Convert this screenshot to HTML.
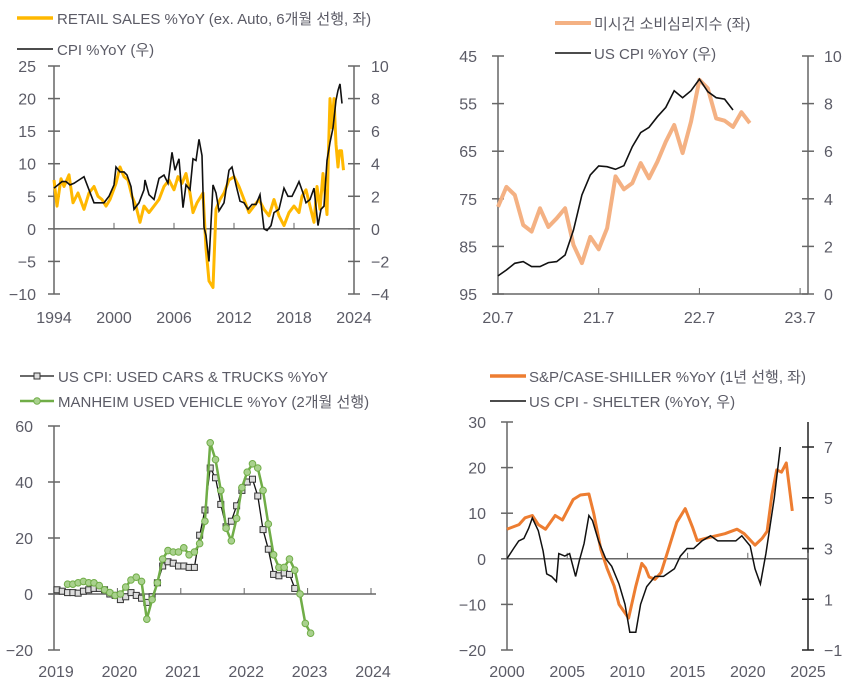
<!DOCTYPE html>
<html><head><meta charset="utf-8"><style>
body{margin:0;background:#fff;}
svg{display:block;font-family:"Liberation Sans","Noto Sans CJK KR",sans-serif;}
.t{fill:#5b5b66;font-size:16px;}
.lg{fill:#5b5b66;font-size:15px;}
</style></head><body>
<svg id="c" width="850" height="692"></svg>
<script>
// Panel 1: retail sales vs CPI
const p1RetailX=[1994,1994.3,1994.7,1995,1995.5,1995.9,1996.4,1997,1997.5,1998,1998.4,1998.8,1999.2,1999.6,2000.2,2000.6,2001,2001.4,2001.8,2002.2,2002.6,2003,2003.5,2004,2004.5,2005,2005.5,2006,2006.4,2006.8,2007.2,2007.6,2007.9,2008.3,2008.9,2009.2,2009.5,2009.9,2010.2,2010.6,2011,2011.5,2012,2012.5,2013,2013.5,2014,2014.5,2015,2015.5,2016,2016.5,2017,2017.5,2018,2018.5,2018.8,2019.2,2019.6,2020,2020.3,2020.6,2020.9,2021.3,2021.45,2021.6,2021.8,2022,2022.2,2022.4,2022.55,2022.75,2022.95,2023.2];
const p1RetailY=[7.5,3.5,7.7,6.5,8.3,4,5.5,3,5.5,6.5,5,4.5,3.5,4.5,7,9.5,8,7.5,5,3.5,1,3.5,2.5,3.5,4.5,6.5,7.5,6,8,7,8.5,5.5,2.5,4,5.5,-3,-8,-9,3,4.5,5.5,7.5,8,6.5,4.5,2.5,3.5,4.5,3,2,4.5,2,0.5,2.5,3.5,2.5,5,6,3.5,1,6.5,3,8.5,2.2,12,20,15.5,20,13,9.5,12,12,9];
const p1CpiX=[1994,1994.4,1994.8,1995.2,1995.6,1996,1996.5,1997,1997.5,1998,1998.5,1999,1999.5,2000,2000.2,2000.6,2001,2001.3,2001.7,2002,2002.5,2003,2003.1,2003.5,2004,2004.5,2005,2005.4,2005.8,2006.1,2006.5,2006.9,2007.2,2007.6,2007.9,2008.2,2008.5,2008.8,2009,2009.2,2009.5,2009.9,2010.2,2010.5,2011,2011.5,2011.8,2012.2,2012.6,2013,2013.4,2013.8,2014.2,2014.6,2015,2015.3,2015.7,2016,2016.5,2017,2017.4,2017.8,2018.2,2018.5,2018.9,2019.2,2019.6,2020,2020.4,2020.7,2021,2021.3,2021.6,2021.9,2022.2,2022.4,2022.6,2022.8];
const p1CpiY=[2.5,2.7,2.9,2.9,2.7,2.8,3.0,3.2,2.4,1.6,1.6,1.6,2.0,2.7,3.8,3.5,3.5,3.3,2.6,1.2,1.6,2.4,3.0,2.1,1.8,3.1,3.3,2.8,4.7,3.6,4.3,1.3,2.7,2.4,4.3,4.2,5.5,4.5,0.1,-0.4,-2.0,2.7,2.2,1.1,1.6,3.6,3.8,2.7,1.7,1.6,1.2,1.5,1.5,2.1,0.0,-0.1,0.2,1.0,1.2,2.5,2.0,2.0,2.5,2.9,2.2,1.6,1.8,2.5,0.2,1.2,1.4,4.2,5.3,6.2,7.9,8.5,8.9,7.7];
const p1LeftTicks=[25,20,15,10,5,0,-5,-10];
const p1RightTicks=[10,8,6,4,2,0,-2,-4];
const p1Years=[1994,2000,2006,2012,2018,2024];
// Panel 2: Michigan sentiment vs CPI (monthly from 20.7)
const p2Sent=[76.7,72.5,74.2,80.5,81.9,77.0,80.9,79.1,77.0,84.7,88.5,83.0,85.6,81.2,70.3,73.0,71.7,67.5,70.7,67.2,63.0,59.5,65.4,58.8,50.0,51.8,58.1,58.6,59.9,56.8,59.1];
const p2Cpi=[0.76,1.01,1.29,1.36,1.15,1.15,1.32,1.36,1.64,2.69,4.16,5.0,5.38,5.35,5.24,5.39,6.19,6.78,7.0,7.45,7.84,8.54,8.25,8.54,9.03,8.5,8.25,8.19,7.73];
const p2LeftTicks=[45,55,65,75,85,95];
const p2RightTicks=[10,8,6,4,2,0];
const p2XLabels=["20.7","21.7","22.7","23.7"];
// Panel 3: used cars (monthly from 2019.0)
const p3Cpi=[1.5,1,0.5,0.5,0.3,1,1.5,2,2,1.5,0,-0.5,-2,-1,0.5,-0.5,-1.5,-3,-1,4,10,11.5,11,10,10,9.5,9.5,21,30,45,41.5,32,24,26,31.5,37,40,41,35,23,16,7,6.5,7.5,7,2];
const p3Manheim=[3.5,3.5,4,4.5,4,4,3,1.5,0.5,-0.5,0,2.5,5,6,4.5,-9,-2,4,12.5,15.5,15,15,16.5,14,15,18,26,54,48,37,23.5,19,27,38,43.5,46.5,45,37,25,14,9.5,9.5,12.5,8.5,0,-10.5,-14];
const p3YTicks=[60,40,20,0,-20];
const p3Years=[2019,2020,2021,2022,2023,2024];
// Panel 4: Case-Shiller vs shelter
const p4CsX=[2000,2001,2001.5,2002.1,2002.6,2003.2,2004,2004.6,2005.1,2005.5,2006.1,2006.8,2007.2,2007.8,2008.3,2008.9,2009.3,2010.1,2010.7,2011.2,2011.5,2011.8,2012.3,2012.8,2013.4,2014.1,2014.8,2015.4,2015.8,2016.5,2017.3,2018.1,2019.1,2019.7,2020.6,2021.2,2021.6,2022,2022.4,2022.8,2023.2,2023.7];
const p4CsY=[6.5,7.5,9,9.5,7.5,6.5,9.5,8.5,11,13,14,14.2,10,2,-2,-6,-10,-13,-6,-1,-2,-4,-4.5,-3,2,8,11,7,4,4.5,5,5.5,6.5,5.5,3,4.5,6,14,19.5,19,21,10.5];
const p4ShX=[2000,2000.55,2000.97,2001.4,2001.8,2002.1,2002.6,2003,2003.3,2003.7,2004.1,2004.3,2004.8,2005.2,2005.7,2006,2006.4,2006.8,2007.1,2007.6,2008.2,2008.7,2009.3,2009.8,2010.2,2010.7,2011.1,2011.6,2012.3,2013,2013.9,2014.4,2014.96,2015.5,2016.2,2016.9,2017.5,2018.3,2019,2019.5,2020.2,2020.6,2021.05,2021.5,2022.2,2022.7];
const p4ShY=[2.6,3.0,3.3,3.4,3.8,4.2,3.7,2.9,2.0,1.9,1.7,2.8,2.7,2.8,1.9,2.5,3.2,4.3,4.1,3.3,2.6,2.3,1.6,0.8,-0.3,-0.3,0.8,1.5,1.9,1.9,2.2,2.7,3.0,3.0,3.3,3.5,3.3,3.3,3.3,3.5,3.1,2.2,1.6,2.8,5.0,7.0];
const p4LeftTicks=[30,20,10,0,-10,-20];
const p4RightTicks=[7,5,3,1,-1];
const p4Years=[2000,2005,2010,2015,2020,2025];

const NS="http://www.w3.org/2000/svg";
const svg=document.getElementById('c');
function mk(tag,attrs,parent){const e=document.createElementNS(NS,tag);for(const k in attrs)e.setAttribute(k,attrs[k]);(parent||svg).appendChild(e);return e;}
function txt(x,y,s,anchor,cls,parent){const e=mk('text',{x:x,y:y,'text-anchor':anchor,class:cls},parent);e.textContent=s;return e;}
function lin(d0,d1,r0,r1){return v=>r0+(v-d0)/(d1-d0)*(r1-r0);}
function path(xs,ys,fx,fy){return xs.map((x,i)=>(i?'L':'M')+fx(x).toFixed(1)+','+fy(ys[i]).toFixed(1)).join('');}
const AX='#666';

// ---------- Panel 1 ----------
{const g=mk('g',{});


const fx=lin(1994,2024,54,354), fl=lin(25,-10,66,294), fr=lin(10,-4,66,294);
mk('line',{x1:54,y1:66,x2:54,y2:294,stroke:AX,'stroke-width':1.5},g);
mk('line',{x1:354,y1:66,x2:354,y2:294,stroke:AX,'stroke-width':1.5},g);
mk('line',{x1:54,y1:fl(0),x2:354,y2:fl(0),stroke:'#222','stroke-width':1},g);
p1LeftTicks.forEach(v=>{mk('line',{x1:48,y1:fl(v),x2:60,y2:fl(v),stroke:AX,'stroke-width':1.5},g);const t=txt(36,fl(v)+6,String(v).replace('-','−'),'end','t',g);});
p1RightTicks.forEach(v=>{mk('line',{x1:348,y1:fr(v),x2:360,y2:fr(v),stroke:AX,'stroke-width':1.5},g);const t=txt(371,fr(v)+6,String(v).replace('-','−'),'start','t',g);});
p1Years.forEach(v=>{mk('line',{x1:fx(v),y1:fl(0)-6,x2:fx(v),y2:fl(0),stroke:AX},g);const t=txt(fx(v),323,String(v),'middle','t',g);});
const a=mk('path',{d:path(p1RetailX,p1RetailY,fx,fl),fill:'none',stroke:'#FFB800','stroke-width':3,'stroke-linejoin':'round'},g);

const b=mk('path',{d:path(p1CpiX,p1CpiY,fx,fr),fill:'none',stroke:'#111','stroke-width':1.6},g);

mk('line',{x1:17,y1:18,x2:53,y2:18,stroke:'#FFB800','stroke-width':3.5},g);
let t=txt(57,24,'RETAIL SALES %YoY (ex. Auto, 6개월 선행, 좌)','start','lg',g);
mk('line',{x1:17,y1:49,x2:53,y2:49,stroke:'#111','stroke-width':1.6},g);
t=txt(57,55,'CPI %YoY (우)','start','lg',g);}

// ---------- Panel 2 ----------
{const g=mk('g',{});


const fx=i=>498+i*100.7/12, fl=lin(45,95,56,294), fr=lin(10,0,56,294);
mk('line',{x1:498,y1:56,x2:498,y2:294,stroke:AX,'stroke-width':1.5},g);
mk('line',{x1:808,y1:56,x2:808,y2:294,stroke:AX,'stroke-width':1.5},g);
mk('line',{x1:493,y1:294,x2:808,y2:294,stroke:AX,'stroke-width':1.5},g);
p2LeftTicks.forEach(v=>{mk('line',{x1:492,y1:fl(v),x2:504,y2:fl(v),stroke:AX,'stroke-width':1.5},g);const t=txt(477,fl(v)+6,String(v),'end','t',g);});
p2RightTicks.forEach(v=>{mk('line',{x1:802,y1:fr(v),x2:814,y2:fr(v),stroke:AX,'stroke-width':1.5},g);const t=txt(824,fr(v)+6,String(v),'start','t',g);});
p2XLabels.forEach((s,i)=>{const x=fx(i*12);mk('line',{x1:x,y1:288,x2:x,y2:294,stroke:AX},g);const t=txt(x,323,s,'middle','t',g);});
const a=mk('path',{d:path(p2Sent.map((v,i)=>i),p2Sent,fx,fl),fill:'none',stroke:'#F4B183','stroke-width':4,'stroke-linejoin':'round'},g);

const b=mk('path',{d:path(p2Cpi.map((v,i)=>i),p2Cpi,fx,fr),fill:'none',stroke:'#111','stroke-width':1.6},g);

mk('line',{x1:555,y1:23,x2:591,y2:23,stroke:'#F4B183','stroke-width':4},g);
let t=txt(594,29,'미시건 소비심리지수 (좌)','start','lg',g);
mk('line',{x1:555,y1:53,x2:591,y2:53,stroke:'#111','stroke-width':1.6},g);
t=txt(594,59,'US CPI %YoY (우)','start','lg',g);}

// ---------- Panel 3 ----------
{const g=mk('g',{});


const fx=i=>57+i*63.4/12, fy=lin(60,-20,426,650), fyr=lin(2019,2024,54,371);
mk('line',{x1:54,y1:426,x2:54,y2:650,stroke:AX,'stroke-width':1.5},g);
mk('line',{x1:49,y1:fy(0),x2:376,y2:fy(0),stroke:AX,'stroke-width':1.5},g);
p3YTicks.forEach(v=>{mk('line',{x1:48,y1:fy(v),x2:60,y2:fy(v),stroke:AX,'stroke-width':1.5},g);const t=txt(33,fy(v)+6,String(v).replace('-','−'),'end','t',g);});
p3Years.forEach(v=>{mk('line',{x1:fyr(v),y1:fy(0)-6,x2:fyr(v),y2:fy(0),stroke:AX},g);const t=txt(fyr(v)+2,677,String(v),'middle','t',g);});
const xs=p3Cpi.map((v,i)=>i);
const a=mk('path',{d:path(xs,p3Cpi,fx,fy),fill:'none',stroke:'#111','stroke-width':1.3},g);

p3Cpi.forEach((v,i)=>{const r=mk('rect',{x:fx(i)-3,y:fy(v)-3,width:6,height:6,fill:'#ddd',stroke:'#333','stroke-width':1},g);});
const xm=p3Manheim.map((v,i)=>i+2);
const b=mk('path',{d:path(xm,p3Manheim,fx,fy),fill:'none',stroke:'#70AD47','stroke-width':2.5},g);

p3Manheim.forEach((v,i)=>{const c=mk('circle',{cx:fx(i+2),cy:fy(v),r:3.3,fill:'#A9D18E',stroke:'#70AD47','stroke-width':1},g);});
mk('line',{x1:20,y1:376,x2:54,y2:376,stroke:'#111','stroke-width':1.3},g);
mk('rect',{x:34,y:373,width:6,height:6,fill:'#ddd',stroke:'#333'},g);
let t=txt(58,382,'US CPI: USED CARS & TRUCKS %YoY','start','lg',g);
mk('line',{x1:20,y1:401,x2:54,y2:401,stroke:'#70AD47','stroke-width':2.5},g);
mk('circle',{cx:37,cy:401,r:3.3,fill:'#A9D18E',stroke:'#70AD47'},g);
t=txt(58,407,'MANHEIM USED VEHICLE %YoY (2개월 선행)','start','lg',g);}

// ---------- Panel 4 ----------
{const g=mk('g',{});


const fx=lin(2000,2025,507,808), fl=lin(30,-20,422,650), fr=lin(7,-1,447,650);
mk('line',{x1:507,y1:422,x2:507,y2:650,stroke:AX,'stroke-width':1.5},g);
mk('line',{x1:808,y1:422,x2:808,y2:650,stroke:'#222','stroke-width':1.5},g);
mk('line',{x1:502,y1:fl(0),x2:808,y2:fl(0),stroke:AX,'stroke-width':1.5},g);
p4LeftTicks.forEach(v=>{mk('line',{x1:501,y1:fl(v),x2:513,y2:fl(v),stroke:AX,'stroke-width':1.5},g);const t=txt(486,fl(v)+6,String(v).replace('-','−'),'end','t',g);});
p4RightTicks.forEach(v=>{mk('line',{x1:802,y1:fr(v),x2:814,y2:fr(v),stroke:'#222','stroke-width':1.5},g);const t=txt(824,fr(v)+6,String(v).replace('-','−'),'start','t',g);});
p4Years.forEach(v=>{mk('line',{x1:fx(v),y1:fl(0)-6,x2:fx(v),y2:fl(0),stroke:AX},g);const t=txt(fx(v),677,String(v),'middle','t',g);});
const a=mk('path',{d:path(p4CsX,p4CsY,fx,fl),fill:'none',stroke:'#ED7D31','stroke-width':3,'stroke-linejoin':'round'},g);

const b=mk('path',{d:path(p4ShX,p4ShY,fx,fr),fill:'none',stroke:'#111','stroke-width':1.5},g);

mk('line',{x1:490,y1:376,x2:526,y2:376,stroke:'#ED7D31','stroke-width':3.5},g);
let t=txt(529,382,'S&P/CASE-SHILLER %YoY (1년 선행, 좌)','start','lg',g);
mk('line',{x1:490,y1:401,x2:526,y2:401,stroke:'#111','stroke-width':1.6},g);
t=txt(529,407,'US CPI - SHELTER (%YoY, 우)','start','lg',g);}
</script>
</body></html>
